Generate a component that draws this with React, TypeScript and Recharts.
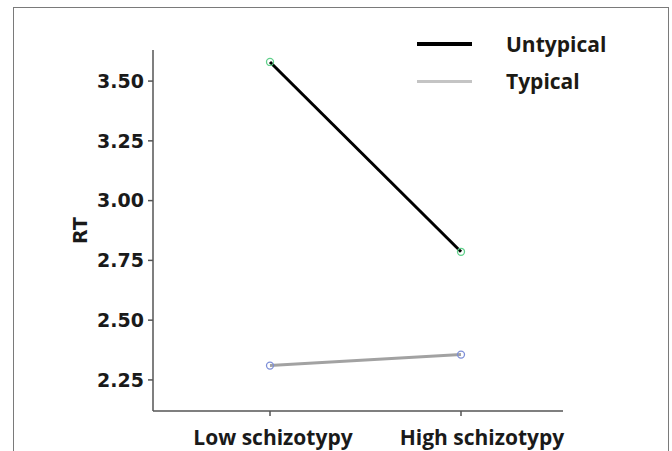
import React from "react";
import { LineChart, Line, XAxis, YAxis, Legend } from "recharts";

const groups = ["Low schizotypy", "High schizotypy"];
const untypical = [3.58, 2.786];
const typical = [2.31, 2.356];
const yTicks = [2.25, 2.5, 2.75, 3.0, 3.25, 3.5];

const data = groups.map((g, i) => ({
  group: g,
  Untypical: untypical[i],
  Typical: typical[i],
}));

const legendColors: Record<string, string> = {
  Untypical: "#000000",
  Typical: "#c4c4c4",
};

const labelShift = [3, 21];

function GroupTick(props: any) {
  const { x, y, payload, index } = props;
  return (
    <text
      x={x + (labelShift[index] ?? 0)}
      y={y + 27}
      textAnchor="middle"
      fontFamily="'Open Sans', sans-serif"
      fontWeight={700}
      fontSize={21}
      fill="#1a1a1a"
    >
      {payload.value}
    </text>
  );
}

function LegendBox(props: any) {
  const items = (props.payload || []).slice().reverse();
  return (
    <div style={{ position: "relative", width: 220, height: 80 }}>
      {items.map((it: any, i: number) => (
        <div
          key={it.value}
          style={{
            position: "absolute",
            left: 0,
            top: i * 37,
            height: 38,
            display: "flex",
            alignItems: "center",
          }}
        >
          <div
            style={{
              width: 55,
              height: i === 0 ? 4 : 3,
              background: legendColors[it.value],
            }}
          />
          <span
            style={{
              marginLeft: 34,
              fontFamily: "'Open Sans', sans-serif",
              fontWeight: 700,
              fontSize: 21,
              color: "#1c1a14",
            }}
          >
            {it.value}
          </span>
        </div>
      ))}
    </div>
  );
}

export default function App() {
  return (
    <div
      style={{
        position: "absolute",
        left: 0,
        top: 0,
        width: 672,
        height: 451,
        overflow: "hidden",
        background: "#fff",
      }}
    >
      <LineChart
        width={672}
        height={451}
        data={data}
        margin={{ top: 50, right: 109, left: 73, bottom: 0 }}
        style={{ position: "absolute", left: 0, top: 0 }}
      >
        <XAxis
          dataKey="group"
          type="category"
          padding={{ left: 117, right: 102 }}
          height={40}
          stroke="#555"
          strokeWidth={1.5}
          tickSize={5}
          tick={<GroupTick />}
          interval={0}
        />
        <YAxis
          width={80}
          domain={[2.12, 3.63]}
          ticks={yTicks}
          allowDataOverflow
          tickFormatter={(v: number) => v.toFixed(2)}
          stroke="#555"
          strokeWidth={1.5}
          tickSize={5}
          tickMargin={4}
          tick={{
            fontFamily: "'DejaVu Sans', sans-serif",
            fontWeight: 700,
            fontSize: 19,
            fill: "#1a1a1a",
          }}
          label={{
            value: "RT",
            angle: -90,
            position: "insideLeft",
            offset: 7,
            style: {
              fontFamily: "'DejaVu Sans', sans-serif",
              fontWeight: 700,
              fontSize: 19,
              fill: "#1a1a1a",
              textAnchor: "middle",
            },
          }}
        />
        <Legend
          layout="horizontal"
          verticalAlign="middle"
          align="center"
          content={<LegendBox />}
          wrapperStyle={{ position: "absolute", left: 417, top: 25, width: 220 }}
        />
        <Line
          dataKey="Typical"
          stroke="#a2a2a2"
          strokeWidth={3}
          dot={{ r: 3.5, stroke: "#7d8fd8", strokeWidth: 1.3, fill: "none" }}
          isAnimationActive={false}
        />
        <Line
          dataKey="Untypical"
          stroke="#000000"
          strokeWidth={3}
          dot={{ r: 3.5, stroke: "#5fd08a", strokeWidth: 1.3, fill: "none" }}
          isAnimationActive={false}
        />
      </LineChart>
      <div
        style={{
          position: "absolute",
          left: 13,
          top: 7,
          width: 654,
          height: 470,
          border: "1.5px solid #7a7a7a",
          pointerEvents: "none",
        }}
      />
    </div>
  );
}
